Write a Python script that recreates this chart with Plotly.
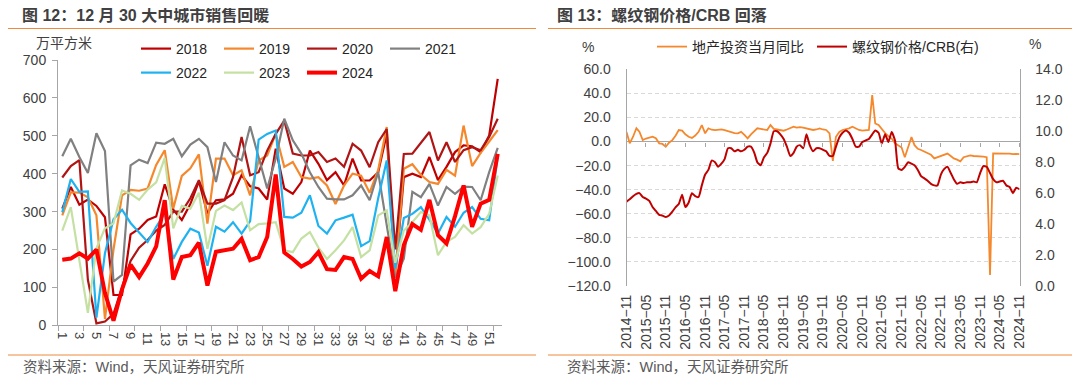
import plotly.graph_objects as go
import pandas as pd

# ---------------- Left chart: 30 major cities weekly sales (万平方米) ----------------
weeks = list(range(1, 53))
week_tick_labels = [str(w) for w in range(1, 52, 2)]

sales_2018 = [308, 365, 318, 332, 315, 285, 80, 80, 240, 255,
              278, 287, 372, 305, 278, 320, 380, 295, 330, 332,
              347, 396, 367, 361, 332, 466, 361, 347, 378, 461,
              426, 383, 404, 369, 440, 382, 382, 404, 505, 130,
              391, 400, 391, 444, 383, 418, 457, 475, 472, 457,
              501, 650]
sales_2019 = [290, 351, 350, 338, 290, 17, 200, 343, 357, 355,
              361, 423, 462, 308, 394, 414, 451, 268, 440, 440,
              396, 409, 343, 435, 448, 505, 418, 431, 391, 387,
              391, 369, 320, 369, 400, 395, 350, 410, 523, 125,
              413, 425, 397, 378, 373, 410, 395, 527, 420, 455,
              485, 515]
sales_2020 = [390, 420, 436, 120, 5, 10, 30, 100, 170, 205,
              225, 250, 265, 300, 300, 335, 383, 321, 321, 330,
              391, 497, 396, 404, 461, 505, 540, 453, 448, 448,
              457, 431, 440, 418, 479, 461, 417, 483, 518, 200,
              452, 453, 480, 510, 435, 483, 431, 462, 470, 462,
              497, 545]
sales_2021 = [446, 492, 444, 402, 507, 460, 115, 133, 422, 437,
              428, 482, 479, 492, 446, 477, 492, 470, 378, 483,
              448, 435, 525, 444, 361, 440, 545, 488, 453, 404,
              365, 334, 332, 332, 343, 369, 330, 404, 268, 125,
              176, 352, 338, 373, 316, 365, 347, 366, 365, 330,
              404, 468]
sales_2022 = [298, 386, 352, 353, 20, 190, 280, 305, 270, 245,
              220, 260, 295, 175, 220, 255, 245, 157, 260, 247,
              272, 242, 275, 490, 505, 514, 286, 284, 297, 343,
              262, 242, 277, 284, 292, 209, 222, 335, 435, 150,
              283, 294, 312, 279, 242, 286, 260, 297, 312, 281,
              277, 445]
sales_2023 = [250, 312, 172, 33, 203, 256, 269, 356, 347, 331,
              358, 377, 442, 256, 315, 308, 350, 202, 302, 316,
              304, 324, 251, 267, 269, 272, 198, 193, 229, 246,
              205, 175, 198, 224, 259, 180, 198, 290, 303, 165,
              250, 272, 299, 290, 185, 220, 233, 264, 242, 259,
              294, 395]
sales_2024 = [173, 176, 190, 176, 200, 85, 12, 95, 160, 127,
              163, 208, 330, 121, 180, 185, 218, 105, 194, 198,
              202, 228, 172, 180, 233, 398, 192, 175, 155, 167,
              193, 148, 146, 180, 175, 123, 143, 129, 233, 90,
              212, 267, 252, 331, 238, 216, 288, 369, 260, 321,
              331, 452]

# ---------------- Right chart: monthly, 2014-11 .. 2024-11 ----------------
invest_yoy = [8.0, -1.5, 4.0, 11.0, 8.1, 1.2, 2.5, 3.5, 4.0, 2.7,
              -1.5, -2.0, -4.3, -1.0, 1.2, 5.0, 9.5, 9.0, 6.0, 4.0,
              3.0, 5.0, 8.1, 13.7, 6.8, 11.0, 9.8, 9.5, 10.0, 10.1,
              9.5, 8.5, 7.5, 7.0, 6.8, 8.0, 5.5, 2.7, 6.0, 9.0,
              11.0, 10.5, 10.0, 9.5, 13.7, 10.5, 10.0, 9.5, 9.0, 10.0,
              11.0, 12.3, 11.5, 12.0, 11.5, 10.9, 10.5, 9.6, 10.0, 10.9,
              10.0, 9.6, 6.8, -16.0, 4.0, 8.0, 9.6, 10.0, 10.9, 12.3,
              11.0, 9.6, 9.0, 9.6, 9.6, 38.6, 15.0, 13.7, 10.0, 7.0,
              4.5, 2.5, -1.5, -3.0, -5.0, -13.0, -4.0, 3.7, -3.0, -6.0,
              -7.0, -8.5, -10.0, -11.0, -14.0, -13.0, -12.6, -11.0, -10.0, -12.0,
              -14.0, -15.0, -16.5, -13.0, -12.0, -11.5, -12.0, -12.0, -12.5, -12.5,
              -13.0, -110.9, -9.8, -10.0, -10.0, -10.2, -10.0, -10.0, -10.5, -10.3,
              -10.5]
rebar_crb = [5.45, 5.6, 5.8, 5.95, 6.0, 5.75, 5.65, 5.5, 5.1, 4.85,
             4.6, 4.55, 4.45, 4.55, 4.8, 5.1, 5.3, 5.9, 5.1, 5.4,
             6.0, 5.8, 5.75, 6.5, 7.2, 7.5, 8.1, 8.0, 7.7, 7.9,
             8.2, 8.9, 8.9, 8.7, 8.8, 8.7, 8.8, 9.0, 9.0, 8.6,
             8.0, 7.8, 8.3, 8.6, 9.2, 10.0, 10.0, 9.8, 9.5, 9.0,
             8.4, 8.6, 9.0, 9.1, 8.9, 9.8, 9.1, 8.7, 8.9, 8.9,
             8.8, 8.7, 8.4, 8.4, 9.0, 9.6, 9.9, 10.05, 9.9, 9.5,
             9.0, 9.0, 9.3, 9.4, 9.5, 9.8, 10.05, 9.9, 9.2, 9.8,
             9.3, 9.95, 9.4, 7.6, 7.5, 7.7, 8.0, 7.9, 7.8, 7.5,
             7.1, 6.95, 6.8, 6.6, 6.5, 6.5, 7.2, 7.55, 7.7, 7.3,
             6.9, 6.6, 6.7, 6.65, 6.7, 6.7, 6.75, 6.7, 7.3, 7.75,
             7.7, 7.3, 6.9, 6.7, 6.75, 6.8, 6.5, 6.4, 6.0, 6.35,
             6.25]
month_ticks = ["2014-11", "2015-05", "2015-11", "2016-05", "2016-11", "2017-05",
               "2017-11", "2018-05", "2018-11", "2019-05", "2019-11", "2020-05",
               "2020-11", "2021-05", "2021-11", "2022-05", "2022-11", "2023-05",
               "2023-11", "2024-05", "2024-11"]

months_inv = pd.date_range("2014-11-01", periods=len(invest_yoy), freq="MS")
months_crb = pd.date_range("2014-11-01", periods=len(rebar_crb), freq="MS")
tick_dates = [m + "-01" for m in month_ticks]
tick_text = [m.replace("-", "\u2212") for m in month_ticks]

# The page body keeps the browser's default 8px margin, so the figure is
# made 8px smaller on each side and all window positions are shifted by 8px.
OFF = 8
W, H = 1080 - OFF, 378 - OFF
FONT = "Liberation Sans, Arial, Noto Sans CJK SC, sans-serif"
AX = "#A6A6A6"
TXT = "#404040"


def px(x):
    return (x - OFF) / W


def py(y):
    return 1 - (y - OFF) / H


fig = go.Figure()

left_series = [
    ("2018", sales_2018, "#C00000", 2.2, "legend"),
    ("2019", sales_2019, "#F5882C", 2.2, "legend"),
    ("2020", sales_2020, "#B01515", 2.2, "legend"),
    ("2021", sales_2021, "#808080", 2.2, "legend"),
    ("2022", sales_2022, "#1FB2F0", 2.2, "legend3"),
    ("2023", sales_2023, "#C5E0A3", 2.2, "legend3"),
    ("2024", sales_2024, "#FF0000", 4.0, "legend3"),
]
for name, vals, color, width, lg in left_series:
    fig.add_trace(go.Scatter(x=weeks, y=vals, mode="lines", name=name,
                             line=dict(color=color, width=width),
                             xaxis="x", yaxis="y", legend=lg))

fig.add_trace(go.Scatter(x=months_inv, y=invest_yoy, mode="lines", name="地产投资当月同比",
                         line=dict(color="#F5882C", width=1.8),
                         xaxis="x2", yaxis="y2", legend="legend2"))
fig.add_trace(go.Scatter(x=months_crb, y=rebar_crb, mode="lines", name="螺纹钢价格/CRB(右)",
                         line=dict(color="#C00000", width=2, shape="spline", smoothing=0.5),
                         xaxis="x2", yaxis="y3", legend="legend4"))
# invisible trace carrying the tick marks that sit on the zero line
fig.add_trace(go.Scatter(x=[months_inv[0]], y=[0], mode="lines", showlegend=False,
                         hoverinfo="skip", line=dict(color="rgba(0,0,0,0)"),
                         xaxis="x4", yaxis="y2"))

left_dom = [px(58), px(502)]
right_dom = [px(626.5), px(1019.5)]

leg_common = dict(orientation="h", bgcolor="rgba(0,0,0,0)", borderwidth=0,
                  font=dict(size=14, color="#262626", family=FONT), itemwidth=30,
                  xanchor="left", yanchor="middle", tracegroupgap=0)

fig.update_layout(
    template="none",
    width=W, height=H, autosize=False,
    margin=dict(l=0, r=0, t=0, b=0, pad=0),
    paper_bgcolor="white", plot_bgcolor="white",
    font=dict(family=FONT, size=14, color=TXT),
    legend=dict(**leg_common, x=px(136), y=py(49), entrywidth=38, entrywidthmode="pixels"),
    legend3=dict(**leg_common, x=px(136), y=py(73), entrywidth=38, entrywidthmode="pixels"),
    legend2=dict(**leg_common, x=px(652), y=py(47)),
    legend4=dict(**leg_common, x=px(812), y=py(47)),
    xaxis=dict(domain=left_dom, anchor="y", range=[0.5, 52.5], automargin=False,
               tickmode="array", tickvals=list(range(1, 52, 2)), ticktext=week_tick_labels,
               tickangle=90, ticks="", showline=True, linecolor=AX, linewidth=1,
               showgrid=False, zeroline=False, tickfont=dict(size=13, color=TXT),
               ticklabelstandoff=3,
               minor=dict(ticks="outside", tickmode="array",
                          tickvals=[0.5 + 3 * j for j in range(18)],
                          ticklen=5, tickcolor=AX, showgrid=False)),
    yaxis=dict(domain=[py(325.3), py(60)], anchor="x", range=[0, 700],
               automargin=False,
               tick0=0, dtick=100, ticks="outside", ticklen=5, tickcolor=AX,
               showline=True, linecolor=AX, linewidth=1, showgrid=False, zeroline=False,
               tickfont=dict(size=14, color=TXT), ticklabelstandoff=3),
    xaxis2=dict(domain=right_dom, anchor="y2", type="date", automargin=False,
                range=["2014-11-01", "2024-11-01"],
                tickmode="array", tickvals=tick_dates, ticktext=tick_text,
                tickangle=-90, ticks="", showline=False, showgrid=False, zeroline=False,
                tickfont=dict(size=14, color=TXT), ticklabelstandoff=5),
    xaxis4=dict(overlaying="x2", anchor="free", position=py(141.5), type="date",
                range=["2014-11-01", "2024-11-01"], automargin=False,
                tickmode="array", tickvals=tick_dates, ticks="outside", ticklen=4,
                tickcolor=AX, showticklabels=False, showline=False, showgrid=False,
                zeroline=False),
    yaxis2=dict(domain=[py(286), py(69.3)], anchor="x2", range=[-120, 60],
                automargin=False,
                tick0=0, dtick=20, tickformat=".1f", ticks="",
                showgrid=True, gridcolor="#D9D9D9", griddash="4px,3px", gridwidth=1,
                zeroline=True, zerolinecolor=AX, zerolinewidth=1,
                showline=True, linecolor=AX, linewidth=1,
                tickfont=dict(size=14, color=TXT), ticklabelstandoff=12),
    yaxis3=dict(overlaying="y2", side="right", anchor="x2", range=[0, 14],
                automargin=False,
                tick0=0, dtick=2, tickformat=".1f", ticks="", showgrid=False,
                zeroline=False, showline=True, linecolor=AX, linewidth=1,
                tickfont=dict(size=14, color=TXT), ticklabelstandoff=12),
)

rule = "#EE8A3A"
shapes = []
for x0, x1 in [(8, 536), (548, 1076)]:
    for yy in (28.5, 355):
        shapes.append(dict(type="line", xref="paper", yref="paper",
                           x0=px(x0), x1=px(x1), y0=py(yy), y1=py(yy),
                           line=dict(color=rule, width=1)))
fig.update_layout(shapes=shapes)

ann = [
    dict(text="<b>图 12：12 月 30 大中城市销售回暖</b>", x=px(20), y=py(15), xanchor="left",
         font=dict(size=16, color="#404040")),
    dict(text="<b>图 13：螺纹钢价格/CRB 回落</b>", x=px(555), y=py(15), xanchor="left",
         font=dict(size=16, color="#404040")),
    dict(text="资料来源：Wind，天风证券研究所", x=px(21), y=py(367), xanchor="left",
         font=dict(size=14.5, color="#595959")),
    dict(text="资料来源：Wind，天风证券研究所", x=px(565), y=py(367), xanchor="left",
         font=dict(size=14.5, color="#595959")),
    dict(text="万平方米", x=px(64), y=py(43), xanchor="center",
         font=dict(size=14, color=TXT)),
    dict(text="%", x=px(588), y=py(47), xanchor="center",
         font=dict(size=14, color=TXT)),
    dict(text="%", x=px(1035), y=py(44), xanchor="center",
         font=dict(size=14, color=TXT)),
]
for a in ann:
    a.update(xref="paper", yref="paper", yanchor="middle", showarrow=False)
fig.update_layout(annotations=ann)

fig.write_html("out.html")
